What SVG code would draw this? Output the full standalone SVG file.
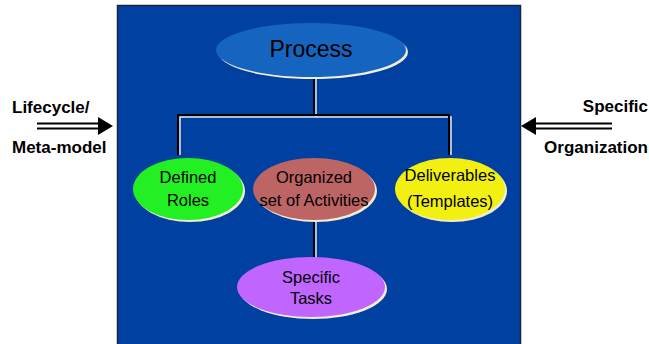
<svg xmlns="http://www.w3.org/2000/svg" width="649" height="344" viewBox="0 0 649 344">
  <style>
    .lbl { font-family: "Liberation Sans", Arial, sans-serif; fill: #000; text-anchor: middle; }
    .node { font-size: 16.5px; }
    .side { font-family: "Liberation Sans", Arial, sans-serif; font-size: 17px; font-weight: bold; fill: #000; }
    .ln-dark { stroke: #000; stroke-width: 2; fill: none; }
    .ln-light { stroke: #E8E8E8; stroke-width: 1.5; fill: none; }
    .shadow { fill: #F2ECD2; }
    .dbl { stroke: #000; stroke-width: 2; }
  </style>

  <rect width="649" height="344" fill="#fff"/>

  <!-- main panel -->
  <rect x="117.5" y="5.5" width="403" height="345" fill="#0040A0" stroke="#1a2440" stroke-width="1.5"/>

  <!-- connectors -->
  <g id="connectors">
    <path class="ln-light" d="M316,77 V117 M180,155 V117 H451 V155 M316,220 V258"/>
    <path class="ln-dark" d="M314,77 V115 M178,155 V115 H449 V155 M314,220 V258"/>
  </g>

  <g id="process">
    <ellipse class="shadow" cx="313" cy="52" rx="95" ry="27"/>
    <ellipse cx="311" cy="50" rx="95" ry="27" fill="#1565C0"/>
    <text class="lbl" x="311" y="57" font-size="23">Process</text>
  </g>

  <g id="defined-roles">
    <ellipse class="shadow" cx="190" cy="191" rx="55" ry="31"/>
    <ellipse cx="188" cy="189" rx="55" ry="31" fill="#22F022"/>
    <text class="lbl node" x="188" y="183">Defined</text>
    <text class="lbl node" x="188" y="206">Roles</text>
  </g>

  <g id="activities">
    <ellipse class="shadow" cx="316" cy="191" rx="61" ry="31"/>
    <ellipse cx="314" cy="189" rx="61" ry="31" fill="#BD6464"/>
    <text class="lbl node" x="314" y="183">Organized</text>
    <text class="lbl node" x="314" y="206">set of Activities</text>
  </g>

  <g id="deliverables">
    <ellipse class="shadow" cx="452" cy="191" rx="55" ry="31"/>
    <ellipse cx="450" cy="189" rx="55" ry="31" fill="#F2F010"/>
    <text class="lbl node" x="450" y="181">Deliverables</text>
    <text class="lbl node" x="450" y="207">(Templates)</text>
  </g>

  <g id="specific-tasks">
    <ellipse class="shadow" cx="313" cy="289" rx="74" ry="30"/>
    <ellipse cx="311" cy="287" rx="74" ry="30" fill="#C066FF"/>
    <text class="lbl node" x="311" y="283">Specific</text>
    <text class="lbl node" x="311" y="304">Tasks</text>
  </g>

  <g id="lifecycle">
    <text class="side" x="12" y="113">Lifecycle/</text>
    <text class="side" x="12" y="153">Meta-model</text>
    <line class="dbl" x1="37" y1="123.5" x2="99" y2="123.5"/>
    <line class="dbl" x1="37" y1="128.5" x2="99" y2="128.5"/>
    <polygon points="98,117 113,126 98,135" fill="#000"/>
  </g>

  <g id="organization">
    <text class="side" x="648" y="112" text-anchor="end">Specific</text>
    <text class="side" x="648" y="153" text-anchor="end">Organization</text>
    <line class="dbl" x1="534" y1="123.5" x2="612" y2="123.5"/>
    <line class="dbl" x1="534" y1="128.5" x2="612" y2="128.5"/>
    <polygon points="536,117 521,126 536,135" fill="#000"/>
  </g>
</svg>
